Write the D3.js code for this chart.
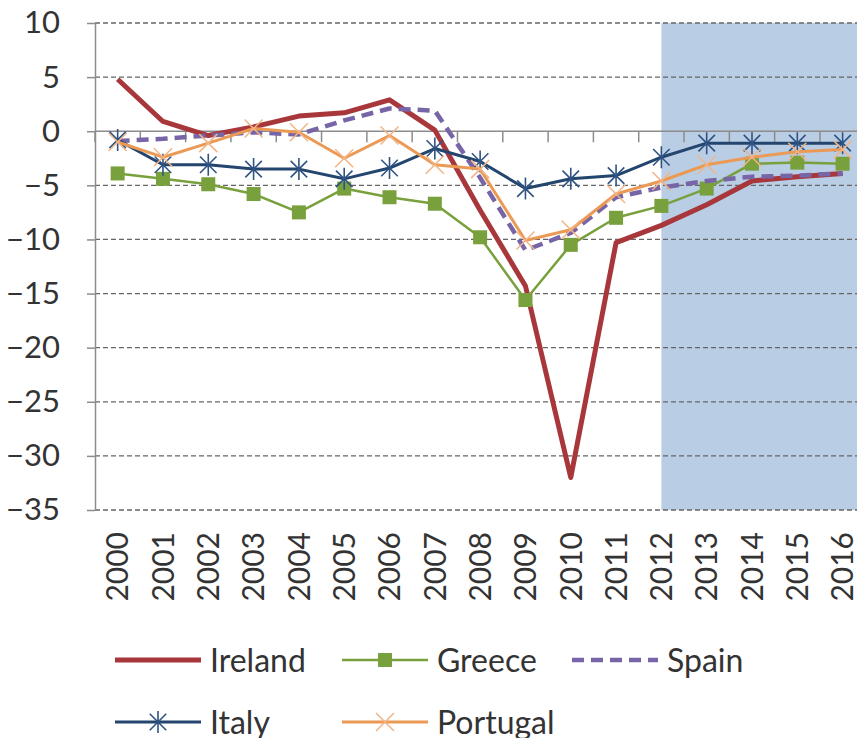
<!DOCTYPE html>
<html>
<head>
<meta charset="utf-8">
<script src="https://cdn.jsdelivr.net/npm/d3@7"></script>
<style>
  html, body { margin: 0; padding: 0; background: #ffffff; }
  svg { display: block; }
  text { font-family: Lato, "Open Sans", sans-serif; fill: #333333; }
</style>
</head>
<body>
<svg id="chart" width="857" height="738"></svg>
<script>
// Government balance, % of GDP
const years = ["2000","2001","2002","2003","2004","2005","2006","2007","2008",
               "2009","2010","2011","2012","2013","2014","2015","2016"];
const ireland  = [4.8, 0.9, -0.4, 0.4, 1.4, 1.7, 2.9, 0.1, -7.3, -14.3, -32.0, -10.3, -8.7, -6.8, -4.6, -4.2, -3.9];
const greece   = [-3.9, -4.4, -4.9, -5.8, -7.5, -5.3, -6.1, -6.7, -9.8, -15.6, -10.5, -8.0, -6.9, -5.3, -3.0, -2.9, -3.0];
const spain    = [-0.9, -0.7, -0.4, -0.1, -0.3, 1.0, 2.1, 1.9, -4.3, -11.0, -9.4, -6.1, -5.2, -4.6, -4.2, -4.1, -3.9];
const italy    = [-0.8, -3.1, -3.1, -3.5, -3.5, -4.4, -3.4, -1.6, -2.8, -5.3, -4.4, -4.1, -2.4, -1.1, -1.1, -1.1, -1.1];
const portugal = [-1.0, -2.4, -1.1, 0.25, -0.1, -2.5, -0.4, -3.1, -3.5, -10.1, -9.1, -5.8, -4.6, -3.1, -2.4, -1.9, -1.7];
const yTicks = [10, 5, 0, -5, -10, -15, -20, -25, -30, -35];
const forecastFrom = "2012";

const series = [
  { name: "Ireland",  values: ireland,  color: "#a8373b", width: 5,   dash: null,   marker: "none"   },
  { name: "Greece",   values: greece,   color: "#78a03c", width: 2.5, dash: null,   marker: "square" },
  { name: "Spain",    values: spain,    color: "#7765a8", width: 4.5, dash: "12,7", marker: "none"   },
  { name: "Italy",    values: italy,    color: "#23456e", width: 3,   dash: null,   marker: "star"   },
  { name: "Portugal", values: portugal, color: "#eb9a55", width: 3,   dash: null,   marker: "cross"  }
];

const svg = d3.select("#chart");
const plotLeft = 95, plotTop = 23, plotBottom = 510, step = 45.31;

const x = d3.scaleBand().domain(years).range([plotLeft, plotLeft + step * years.length]);
const cx = d => x(d) + x.bandwidth() / 2;
const y = d3.scaleLinear().domain([-35, 10]).range([plotBottom, plotTop]);

// shaded forecast period
svg.append("rect")
  .attr("x", cx(forecastFrom))
  .attr("y", y(10))
  .attr("width", x.range()[1] - cx(forecastFrom))
  .attr("height", y(-35) - y(10))
  .attr("fill", "#b9cde5");

// dashed horizontal gridlines
svg.append("g")
  .selectAll("line")
  .data(yTicks.filter(v => v !== 0))
  .join("line")
  .attr("x1", plotLeft).attr("x2", x.range()[1])
  .attr("y1", d => y(d)).attr("y2", d => y(d))
  .attr("stroke", "#666666")
  .attr("stroke-width", 1.3)
  .attr("stroke-dasharray", "5,3");

// value axis
const yAxis = svg.append("g")
  .attr("transform", `translate(${plotLeft},0)`)
  .call(d3.axisLeft(y).tickValues(yTicks).tickSize(8).tickPadding(27).tickSizeOuter(0));
yAxis.select(".domain").attr("stroke", "#8c8c8c").attr("stroke-width", 1.5);
yAxis.selectAll(".tick line").attr("stroke", "#8c8c8c").attr("stroke-width", 1.5);
yAxis.selectAll(".tick text")
  .style("font-family", "Lato, 'Open Sans', sans-serif")
  .style("font-size", "31px")
  .attr("fill", "#333333");

// zero line with category boundary ticks
svg.append("line")
  .attr("x1", plotLeft).attr("x2", x.range()[1])
  .attr("y1", y(0)).attr("y2", y(0))
  .attr("stroke", "#8c8c8c").attr("stroke-width", 1.5);
svg.append("g")
  .selectAll("line")
  .data(years.map(d => x(d)).concat([x.range()[1]]))
  .join("line")
  .attr("x1", d => d).attr("x2", d => d)
  .attr("y1", y(0)).attr("y2", y(0) + 11)
  .attr("stroke", "#8c8c8c").attr("stroke-width", 1.5);

// category labels, rotated
const xAxis = svg.append("g")
  .attr("transform", `translate(0,${plotBottom})`)
  .call(d3.axisBottom(x).tickSize(0).tickSizeOuter(0));
xAxis.select(".domain").remove();
xAxis.selectAll(".tick text")
  .style("font-family", "Lato, 'Open Sans', sans-serif")
  .style("font-size", "30px")
  .attr("fill", "#333333")
  .attr("transform", "rotate(-90)")
  .attr("text-anchor", "end")
  .attr("x", -22)
  .attr("y", 0)
  .attr("dy", "0.36em");

// marker drawing
function drawMarker(g, type, color) {
  if (type === "square") {
    g.append("rect").attr("x", -7).attr("y", -7).attr("width", 14).attr("height", 14)
      .attr("fill", color);
  } else if (type === "star") {
    const r = 11;
    g.append("path")
      .attr("d", `M${-r*0.75},${-r*0.75}L${r*0.75},${r*0.75}M${-r*0.75},${r*0.75}L${r*0.75},${-r*0.75}M0,${-r}L0,${r}`)
      .attr("stroke", "#2f5484").attr("stroke-width", 1.6).attr("fill", "none");
  } else if (type === "cross") {
    const r = 9;
    g.append("path")
      .attr("d", `M${-r},${-r}L${r},${r}M${-r},${r}L${r},${-r}`)
      .attr("stroke", "#f2b486").attr("stroke-width", 1.5).attr("fill", "none");
  }
}

const line = d3.line().x(d => cx(d.year)).y(d => y(d.value));

series.forEach(s => {
  const pts = years.map((yr, i) => ({ year: yr, value: s.values[i] }));
  const g = svg.append("g");
  g.append("path")
    .datum(pts)
    .attr("d", line)
    .attr("fill", "none")
    .attr("stroke", s.color)
    .attr("stroke-width", s.width)
    .attr("stroke-linejoin", "round")
    .attr("stroke-dasharray", s.dash);
  if (s.marker !== "none") {
    g.selectAll("g.m")
      .data(pts)
      .join("g")
      .attr("class", "m")
      .attr("transform", d => `translate(${cx(d.year)},${y(d.value)})`)
      .each(function () { drawMarker(d3.select(this), s.marker, s.color); });
  }
});

// legend
const legendPos = [
  { x: 115, y: 660 }, { x: 342, y: 660 }, { x: 572, y: 660 },
  { x: 115, y: 722 }, { x: 342, y: 722 }
];
series.forEach((s, i) => {
  const p = legendPos[i];
  const g = svg.append("g").attr("transform", `translate(${p.x},${p.y})`);
  g.append("line")
    .attr("x1", 0).attr("x2", 86).attr("y1", 0).attr("y2", 0)
    .attr("stroke", s.color)
    .attr("stroke-width", s.width)
    .attr("stroke-dasharray", s.dash);
  if (s.marker !== "none") {
    const m = g.append("g").attr("transform", "translate(43,0)");
    drawMarker(m, s.marker, s.color);
  }
  g.append("text")
    .attr("x", 95)
    .attr("y", 0)
    .attr("dy", "0.36em")
    .style("font-size", "32px")
    .text(s.name);
});
</script>
</body>
</html>
